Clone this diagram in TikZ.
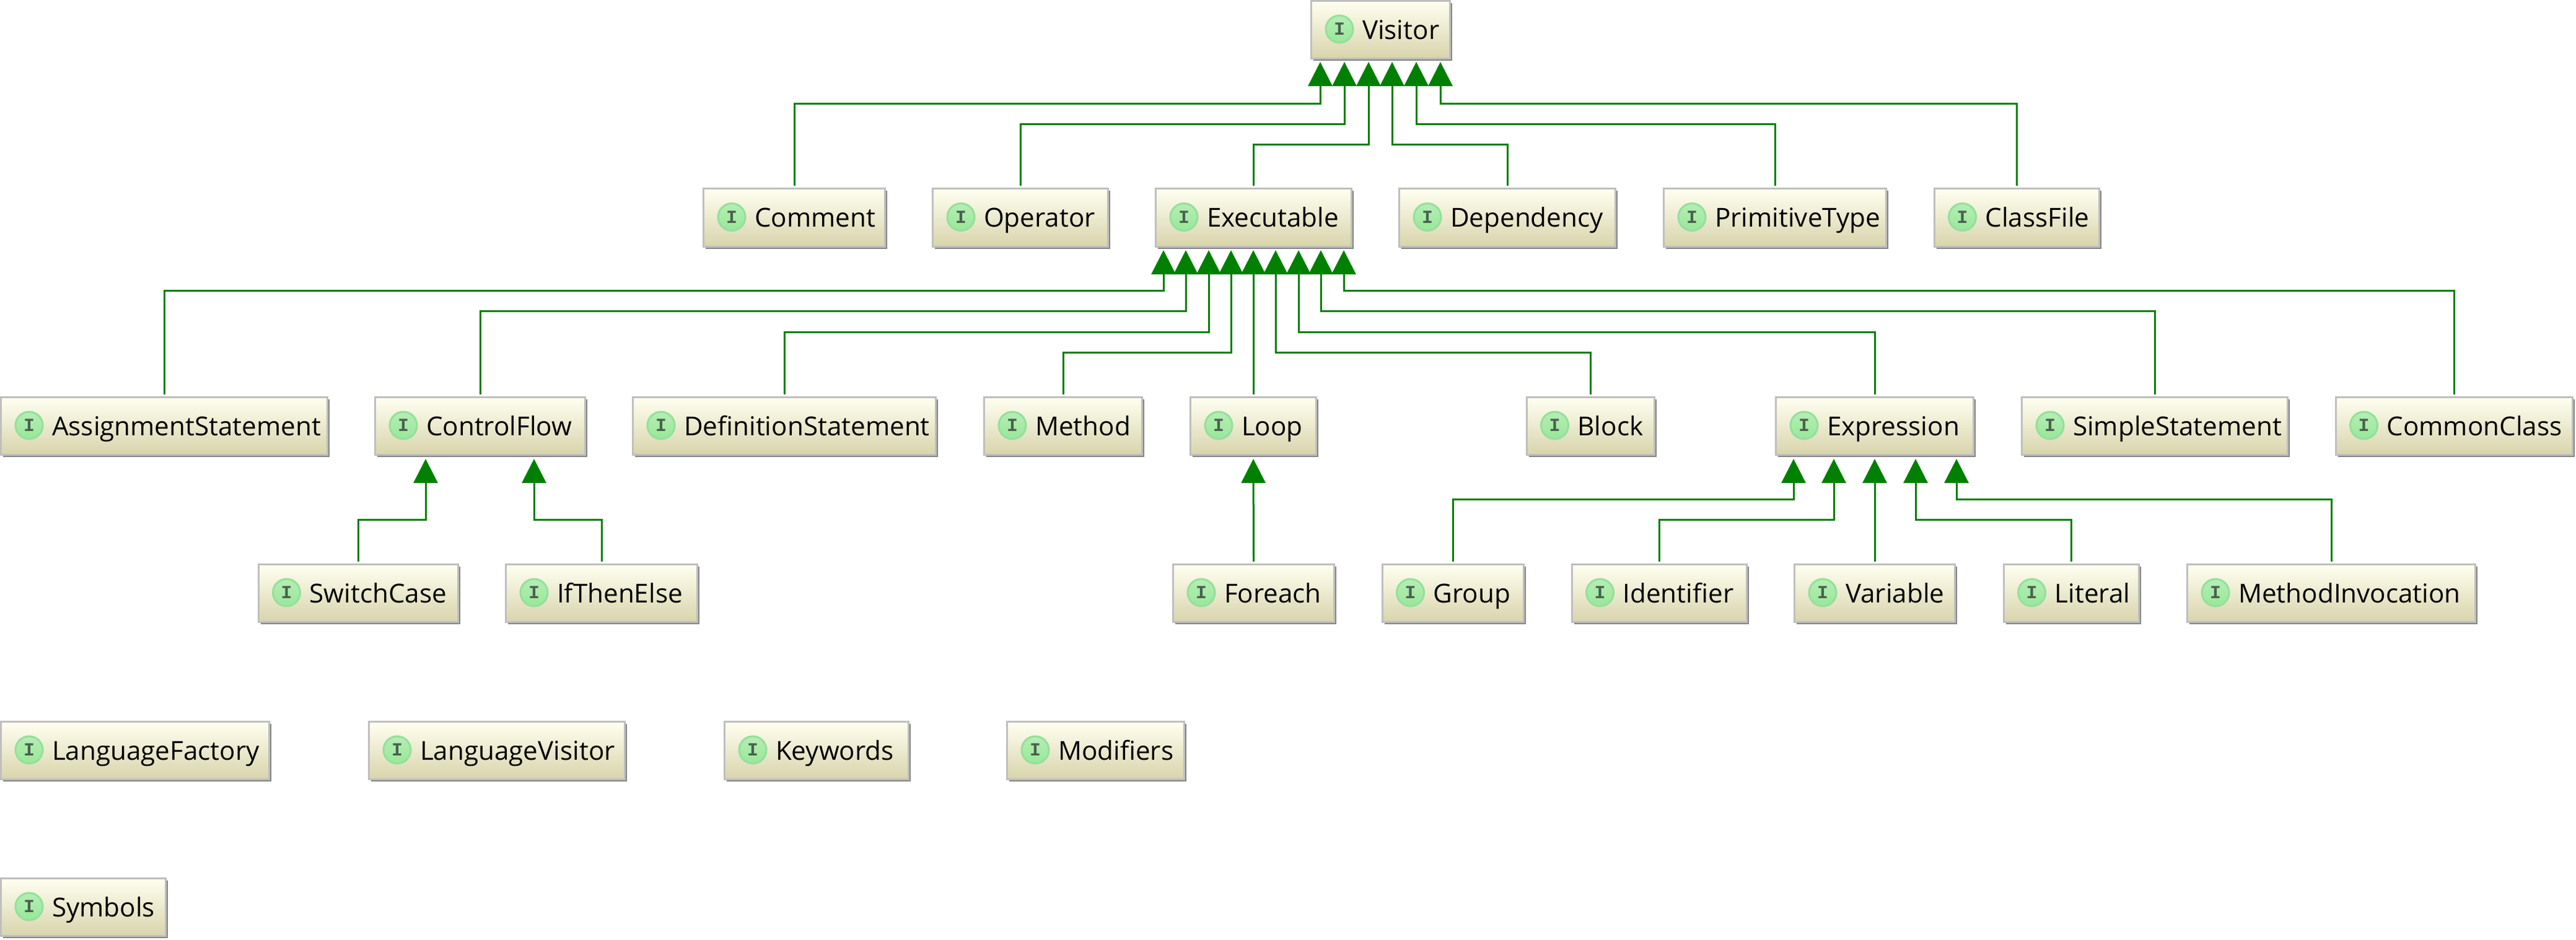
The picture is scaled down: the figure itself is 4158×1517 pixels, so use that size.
\documentclass[tikz,border=0pt]{standalone}
\usepackage{fontspec}
\setmainfont{Open Sans}
\newfontfamily\iconfont{Liberation Mono}[BoldFont={* Bold}]
\usepackage{xcolor}
\usepackage{tikz}
\usetikzlibrary{arrows.meta,shadows}

\definecolor{boxline}{HTML}{BFBFBF}
\definecolor{boxtop}{HTML}{FFFFF0}
\definecolor{boxbottom}{HTML}{D8D4AC}
\definecolor{boxshadow}{HTML}{858585}
\definecolor{icontop}{HTML}{B4EEB4}
\definecolor{iconbottom}{HTML}{99E799}
\definecolor{iconline}{HTML}{93E09B}
\definecolor{iconletter}{HTML}{4B5F50}
\definecolor{isagreen}{HTML}{008000}

\tikzset{
    ifaceicon/.style={circle, draw = iconline, top color = icontop, bottom color = iconbottom, line width = .03cm, minimum size = .44cm, inner sep = 0pt, text = iconletter, font = \iconfont\bfseries\fontsize{8.5}{8.5}\selectfont},
    iface/.style={rectangle, draw = boxline, line width = .03cm, top color = boxtop, bottom color = boxbottom, inner sep = 0pt, minimum height = .93cm, minimum width = {(#1-3)*.01cm}, text width = {(#1-3)*.01cm}, text height = .4cm, text depth = .1cm, align = left, font = \fontsize{12}{12}\selectfont, execute at begin node = {\hspace*{.825cm}}, general shadow = {fill = boxshadow, shadow xshift = .035cm, shadow yshift = -.035cm}, label = {[ifaceicon, anchor = center, xshift = .47cm, yshift = .01cm]180:I}},
    isa/.style={draw = isagreen, line width = .03cm, shorten < = .03cm, -{Triangle[length = .39cm, width = .39cm]}}
}

\begin{document}
\begin{tikzpicture}[x = .01cm, y = -.01cm]
    \useasboundingbox (0,0) rectangle (4158,1517);

    \node (visitor)[iface = 227] at (2228.5,48) {Visitor};

    \node (comment)[iface = 296] at (1282,351.5) {Comment};
    \node (operator)[iface = 286] at (1647,351.5) {Operator};
    \node (executable)[iface = 319] at (2023.5,351.5) {Executable};
    \node (dependency)[iface = 352] at (2433,351.5) {Dependency};
    \node (primitive)[iface = 362] at (2865,351.5) {PrimitiveType};
    \node (classfile)[iface = 269] at (3255,351.5) {ClassFile};

    \node (assignment)[iface = 530] at (265,688) {AssignmentStatement};
    \node (control)[iface = 342] at (775,688) {ControlFlow};
    \node (definition)[iface = 492] at (1266,688) {DefinitionStatement};
    \node (method)[iface = 258] at (1716,688) {Method};
    \node (loop)[iface = 206] at (2023,688) {Loop};
    \node (block)[iface = 209] at (2567,688) {Block};
    \node (expression)[iface = 322] at (3026,688) {Expression};
    \node (simple)[iface = 432] at (3478,688) {SimpleStatement};
    \node (common)[iface = 385] at (3961,688) {CommonClass};

    \node (switch)[iface = 325] at (578,958) {SwitchCase};
    \node (ifthen)[iface = 312] at (971,958) {IfThenElse};
    \node (foreach)[iface = 263] at (2023.5,958) {Foreach};
    \node (group)[iface = 231] at (2345,958) {Group};
    \node (identifier)[iface = 285] at (2678,958) {Identifier};
    \node (variable)[iface = 262] at (3026,958) {Variable};
    \node (literal)[iface = 221] at (3343,958) {Literal};
    \node (invocation)[iface = 468] at (3763,958) {MethodInvocation};

    \node (factory)[iface = 436] at (218,1212) {LanguageFactory};
    \node (langvisitor)[iface = 416] at (802,1212) {LanguageVisitor};
    \node (keywords)[iface = 300] at (1318,1212) {Keywords};
    \node (modifiers)[iface = 289] at (1768.5,1212) {Modifiers};

    \node (symbols)[iface = 269] at (134.5,1465) {Symbols};

    % arrow tips under each parent
    \foreach \n/\x in {1/2131,2/2170,3/2209,4/2247,5/2286,6/2325}
        \coordinate (v\n) at (\x,100);
    \foreach \n/\x in {1/1878,2/1914,3/1951,4/1987,5/2023,6/2059,7/2096,8/2132,9/2169}
        \coordinate (e\n) at (\x,404);
    \coordinate (c1) at (687,741);
    \coordinate (c2) at (862,741);
    \coordinate (l1) at (2023,741);
    \foreach \n/\x in {1/2895,2/2960,3/3026,4/3092,5/3158}
        \coordinate (x\n) at (\x,741);

    \draw[isa] (comment.north) -- ++(0,-136) -| (v1);
    \draw[isa] (operator.north) -- ++(0,-103) -| (v2);
    \draw[isa] (executable.north) -- ++(0,-70) -| (v3);
    \draw[isa] (dependency.north) -- ++(0,-70) -| (v4);
    \draw[isa] (primitive.north) -- ++(0,-103) -| (v5);
    \draw[isa] (classfile.north) -- ++(0,-136) -| (v6);

    \draw[isa] (assignment.north) -- ++(0,-170) -| (e1);
    \draw[isa] (control.north) -- ++(0,-137) -| (e2);
    \draw[isa] (definition.north) -- ++(0,-103) -| (e3);
    \draw[isa] (method.north) -- ++(0,-70) -| (e4);
    \draw[isa] (loop.north) -- (e5);
    \draw[isa] (block.north) -- ++(0,-70) -| (e6);
    \draw[isa] (expression.north) -- ++(0,-103) -| (e7);
    \draw[isa] (simple.north) -- ++(0,-137) -| (e8);
    \draw[isa] (common.north) -- ++(0,-170) -| (e9);

    \draw[isa] (switch.north) -- ++(0,-70) -| (c1);
    \draw[isa] (ifthen.north) -- ++(0,-70) -| (c2);
    \draw[isa] (foreach.north) -- (l1);

    \draw[isa] (group.north) -- ++(0,-103) -| (x1);
    \draw[isa] (identifier.north) -- ++(0,-70) -| (x2);
    \draw[isa] (variable.north) -- (x3);
    \draw[isa] (literal.north) -- ++(0,-70) -| (x4);
    \draw[isa] (invocation.north) -- ++(0,-103) -| (x5);
\end{tikzpicture}
\end{document}
